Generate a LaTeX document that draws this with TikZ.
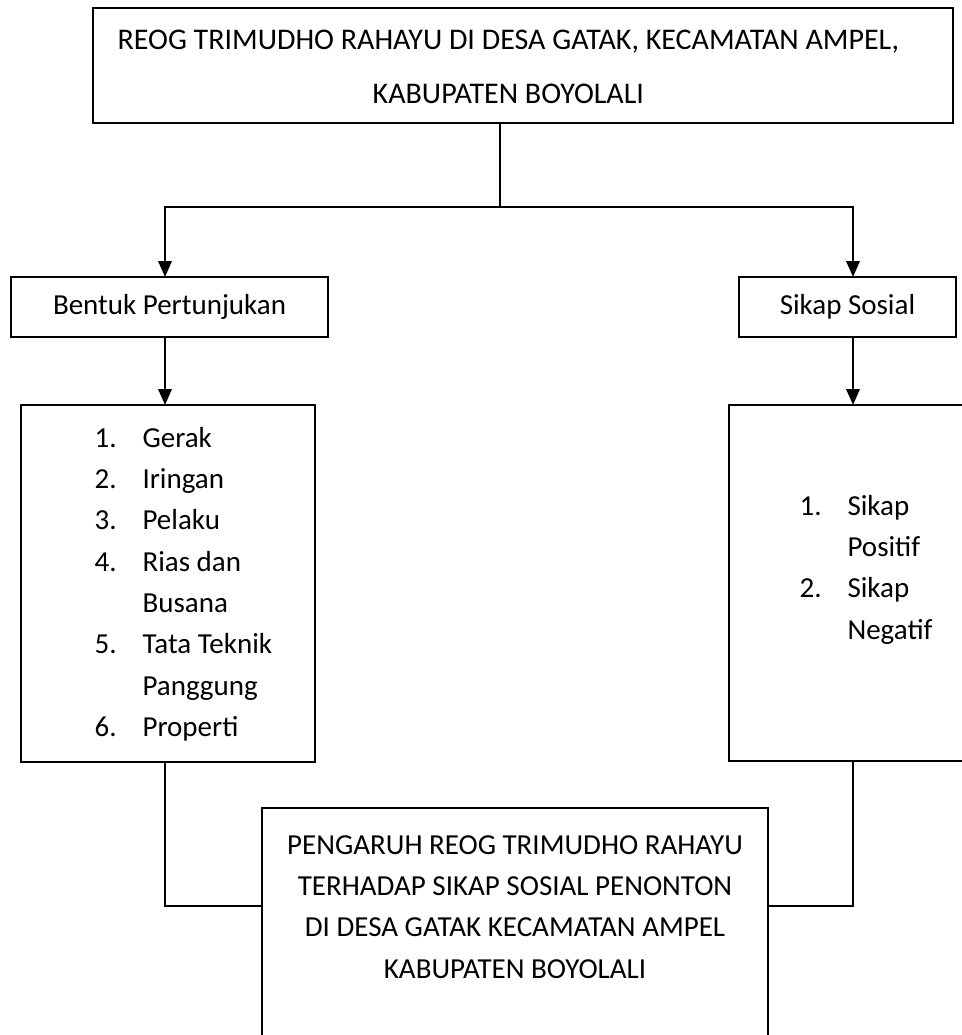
\documentclass[tikz,border=0pt]{standalone}
\usepackage{fontspec}
\setmainfont{Carlito}
\usetikzlibrary{arrows.meta}

\begin{document}
\begin{tikzpicture}[x=0.75pt, y=-0.75pt,
    box/.style={draw, line width=1.9pt, rectangle, inner sep=0pt, outer sep=0pt,
        font=\fontsize{21.75}{31}\selectfont},
    link/.style={line width=1.9pt, line cap=rect},
    arr/.style={link, -{Triangle[length=12pt, width=10pt]}}]

    \fill[white] (0,0) rectangle (962,1035);
    \clip (0,0) rectangle (962,1035);

    \node[box, minimum width=645pt, minimum height=86.25pt,
        font=\fontsize{22.5}{40.5}\selectfont] (top) at (523,65.5)
        {\begin{tabular}{@{}c@{\hspace{22pt}}}
            REOG TRIMUDHO RAHAYU DI DESA GATAK, KECAMATAN AMPEL,\\
            KABUPATEN BOYOLALI
        \end{tabular}};

    \node[box, minimum width=237.75pt, minimum height=45pt] (bentuk) at (169.5,307)
        {Bentuk Pertunjukan};
    \node[box, minimum width=162.75pt, minimum height=45pt] (sikap) at (847.5,307)
        {Sikap Sosial};

    \node[box, minimum width=220.5pt, minimum height=267.75pt] (leftlist) at (168,583.5)
        {\begin{tabular}{@{\hspace{23pt}}p{36pt}@{}l@{}}
            1. & Gerak\\
            2. & Iringan\\
            3. & Pelaku\\
            4. & Rias dan\\
               & Busana\\
            5. & Tata Teknik\\
               & Panggung\\
            6. & Properti
        \end{tabular}};

    \node[box, minimum width=220.5pt, minimum height=267pt] (rightlist) at (876,583)
        {\begin{tabular}{@{}p{36pt}@{}l@{\hspace{15pt}}}
            1. & Sikap\\
               & Positif\\
            2. & Sikap\\
               & Negatif\\[21pt]
        \end{tabular}};

    \node[box, anchor=north, minimum width=379.5pt, minimum height=225pt] (outcome) at (515,808)
        {\begin{tabular}{@{}c@{}}
            PENGARUH REOG TRIMUDHO RAHAYU\\
            TERHADAP SIKAP SOSIAL PENONTON\\
            DI DESA GATAK KECAMATAN AMPEL\\
            KABUPATEN BOYOLALI\\[75pt]
        \end{tabular}};

    % branching points
    \coordinate (fork) at (500,207);
    \coordinate (leftbranch) at (165,207);
    \coordinate (rightbranch) at (853,207);
    \coordinate (joinrow) at (515,906);

    \draw[link] (top.south -| fork) -- (fork);
    \draw[link] (leftbranch) -- (rightbranch);
    \draw[arr] (leftbranch) -- (leftbranch |- bentuk.north);
    \draw[arr] (rightbranch) -- (rightbranch |- sikap.north);

    \draw[arr] (leftbranch |- bentuk.south) -- (leftbranch |- leftlist.north);
    \draw[arr] (rightbranch |- sikap.south) -- (rightbranch |- rightlist.north);

    \draw[link] (leftbranch |- leftlist.south) |- (outcome.west |- joinrow);
    \draw[link] (rightbranch |- rightlist.south) |- (outcome.east |- joinrow);

\end{tikzpicture}
\end{document}
